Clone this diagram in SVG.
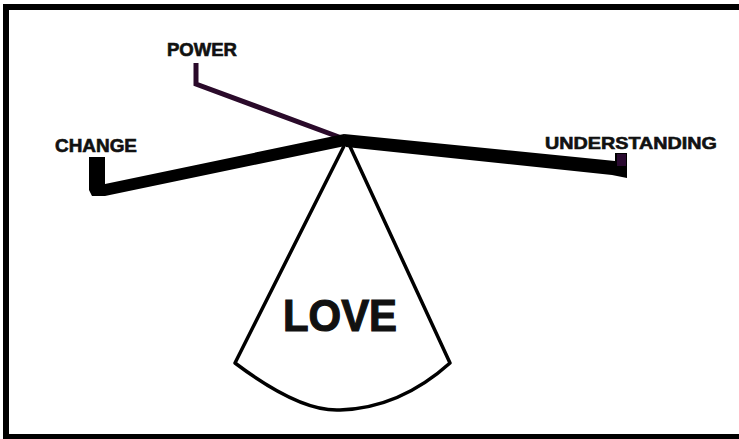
<svg xmlns="http://www.w3.org/2000/svg" width="739" height="439" viewBox="0 0 739 439">
<style>
.lbl{font-family:"Futura","Liberation Sans","DejaVu Sans",sans-serif;font-weight:bold;fill:#111;stroke:#111;stroke-width:0.6;}
.cone{fill:#fff;stroke:#000;stroke-width:3.5;stroke-linejoin:round;}
.beam{fill:#000;}
</style>
<rect width="739" height="439" fill="#fff"/>
<g id="frame">
<rect x="3" y="4" width="736" height="6" fill="#000"/>
<rect x="3" y="4" width="6" height="435" fill="#000"/>
<rect x="3" y="434" width="736" height="5" fill="#000"/>
</g>
<g id="love">
<path class="cone" d="M347,140 L235,363 Q300,412 340,410 Q400,408 450,363 Z"/>
<text class="lbl" x="340" y="331" font-size="45" text-anchor="middle" textLength="114" lengthAdjust="spacingAndGlyphs" style="stroke-width:1.2">LOVE</text>
</g>
<g id="connectors">
<path d="M196,63 L196,84 L347,140" fill="none" stroke="#2a0a2a" stroke-width="5" stroke-linejoin="miter"/>
<polygon class="beam" points="89,157 105,157 105,184 344,134 350,145 105,196 92,196 89,190"/>
<polygon class="beam" points="344,134 615,161 615,153 627,153 627,178 612,175 346,147"/>
<rect x="617" y="154" width="9" height="12" fill="#2a0a30"/>
</g>
<g id="power"><text class="lbl" x="202" y="56" font-size="17.5" text-anchor="middle" textLength="70" lengthAdjust="spacingAndGlyphs">POWER</text></g>
<g id="change"><text class="lbl" x="96" y="152" font-size="17.5" text-anchor="middle" textLength="82" lengthAdjust="spacingAndGlyphs">CHANGE</text></g>
<g id="understanding"><text class="lbl" x="631" y="149" font-size="17" text-anchor="middle" textLength="172" lengthAdjust="spacingAndGlyphs">UNDERSTANDING</text></g>
</svg>
